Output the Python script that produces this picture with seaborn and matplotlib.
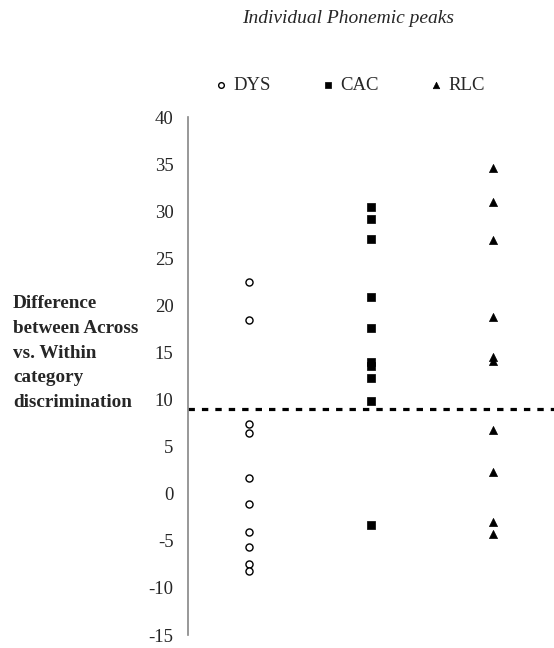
import matplotlib
matplotlib.use("Agg")
import matplotlib.pyplot as plt
import seaborn as sns
import pandas as pd

# groups shown on the x axis
groups = ["DYS", "CAC", "RLC"]

# difference across vs within category discrimination
dysValues = [22.5, 18.5, 7.4, 6.5, 1.7, -1.1, -4.1, -5.6, -7.5, -8.2]
cacValues = [30.5, 29.2, 27.0, 20.9, 17.6, 14.0, 13.6, 12.3, 9.8, -3.3]
rlcValues = [34.6, 31.0, 26.9, 18.8, 14.5, 14.1, 6.8, 2.3, -3.0, -4.3]

# chance / reference level (dotted line)
refLevel = 9

yTicks = [40, 35, 30, 25, 20, 15, 10, 5, 0, -5, -10, -15]
yLabelText = "Difference\nbetween Across\nvs. Within\ncategory\ndiscrimination"
titleText = "Individual Phonemic peaks"

df = pd.DataFrame({
    "group": ["DYS"] * len(dysValues) + ["CAC"] * len(cacValues) + ["RLC"] * len(rlcValues),
    "value": dysValues + cacValues + rlcValues,
})
df["pos"] = df["group"].map({g: i for i, g in enumerate(groups)})

sns.set_style("white")
plt.rcParams["font.family"] = ["Liberation Serif", "DejaVu Serif"]

fig = plt.figure(figsize=(5.54, 6.48), dpi=100)
ax = fig.add_axes([0.3385, 0.020, 0.6615, 0.7994])

styles = {
    "DYS": dict(marker="o", facecolor="white", edgecolor="black", s=26, linewidth=1.0),
    "CAC": dict(marker="s", facecolor="black", edgecolor="black", s=26, linewidth=0.5),
    "RLC": dict(marker="^", facecolor="black", edgecolor="black", s=34, linewidth=0.5),
}
for g in groups:
    sub = df[df["group"] == g]
    st = styles[g]
    sns.scatterplot(data=sub, x="pos", y="value", ax=ax, marker=st["marker"],
                    color=st["facecolor"], edgecolor=st["edgecolor"], s=st["s"],
                    linewidth=st["linewidth"], label=g, zorder=3)

ax.axhline(refLevel, xmin=0, xmax=1, color="black", linewidth=2.3,
           linestyle=(0, (2, 2.2)), zorder=2)

ax.set_xlim(-0.5, 2.5)
ax.set_ylim(-15, 40)
ax.set_yticks(yTicks)
ax.set_yticklabels([str(t) for t in yTicks], fontsize=13.5)
ax.set_xticks([])
ax.set_xlabel("")
ax.set_ylabel("")
ax.tick_params(axis="y", length=0, pad=10)
for side in ["top", "right", "bottom"]:
    ax.spines[side].set_visible(False)
ax.spines["left"].set_color("#868686")
ax.spines["left"].set_linewidth(1.2)
ax.patch.set_alpha(0)

handles, labels = ax.get_legend_handles_labels()
ax.get_legend().remove()
fig.legend(handles, labels, loc="center", bbox_to_anchor=(350 / 554, 1 - 85 / 648),
           ncol=3, frameon=False, fontsize=13.5, markerscale=0.8, handlelength=0.6,
           handletextpad=0.35, columnspacing=2.75)

fig.text(348 / 554, 1 - 23.3 / 648, titleText, ha="center", va="baseline",
         fontsize=14, style="italic")
fig.text(13 / 554, 1 - 353 / 648, yLabelText, ha="left", va="center",
         fontsize=13.8, fontweight="bold", linespacing=1.61)

fig.savefig("out.png", dpi=100)
